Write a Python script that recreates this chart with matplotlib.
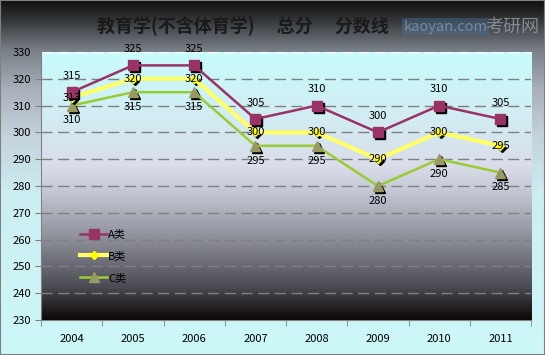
import numpy as np
import matplotlib
matplotlib.use('Agg')
import matplotlib.pyplot as plt
import matplotlib.transforms as mtransforms
from matplotlib.colors import LinearSegmentedColormap

plt.rcParams['font.family'] = ['Noto Sans CJK SC', 'DejaVu Sans']

years = ['2004', '2005', '2006', '2007', '2008', '2009', '2010', '2011']
a_scores = [315, 325, 325, 305, 310, 300, 310, 305]
b_scores = [313, 320, 320, 300, 300, 290, 300, 295]
c_scores = [310, 315, 315, 295, 295, 280, 290, 285]
labels = ['A类', 'B类', 'C类']

fig = plt.figure(figsize=(5.45, 3.55), dpi=100)

# figure background gradient
bg = fig.add_axes([0, 0, 1, 1], zorder=-10)
bg_cmap = LinearSegmentedColormap.from_list('bg', [
    (0.0, '#ccf8f8'), (0.45, '#cceef2'), (0.62, '#c4d2dc'),
    (0.75, '#a8b0ba'), (0.86, '#7a8088'), (0.95, '#303234'), (1.0, '#101010')])
bg.imshow(np.linspace(0, 1, 256).reshape(-1, 1), aspect='auto', cmap=bg_cmap,
          origin='lower', extent=[0, 1, 0, 1])
bg.set_axis_off()
fig.patches.append(plt.Rectangle((0, 0), 1, 1, transform=fig.transFigure,
                                 fill=False, edgecolor='#808080', lw=1.5))

ax = fig.add_axes([41 / 545, 1 - 320 / 355, 490 / 545, 268 / 355])
ax.set_facecolor('none')
plot_cmap = LinearSegmentedColormap.from_list('pl', [
    (0.0, '#0c0606'), (0.12, '#4a4a52'), (0.3, '#8c8e98'),
    (0.48, '#c4c8d4'), (0.58, '#dadeea'), (0.75, '#d2ecf2'), (1.0, '#c8fcfc')])
x = np.arange(len(years))
ax.imshow(np.linspace(0, 1, 256).reshape(-1, 1), aspect='auto', cmap=plot_cmap,
          origin='lower', extent=[-0.5, len(years) - 0.5, 230, 330], zorder=0)

ax.set_xlim(-0.5, len(years) - 0.5)
ax.set_ylim(230, 330)
ax.set_yticks(range(230, 331, 10))
ax.set_xticks(x)
ax.set_xticklabels(years)
ax.set_xticks(np.arange(-0.5, len(years), 1), minor=True)
ax.tick_params(axis='x', which='major', length=0, pad=10, labelsize=8)
ax.tick_params(axis='x', which='minor', length=4, color='#808080')
ax.tick_params(axis='y', length=4, color='#808080', labelsize=8, pad=3)
for s in ax.spines.values():
    s.set_visible(False)
ax.spines['left'].set_visible(True)
ax.spines['bottom'].set_visible(True)
ax.spines['left'].set_color('#808080')
ax.spines['bottom'].set_color('#808080')

for yv in range(240, 331, 10):
    ax.axhline(yv, color='#ffffff' if yv == 330 else '#808080', lw=1,
               dashes=(8, 4), zorder=1)

# black marker shadows
sh = mtransforms.offset_copy(ax.transData, fig=fig, x=1.5, y=-1.5, units='points')
ax.plot(x, c_scores, ls='none', marker='^', ms=7, color='black', transform=sh, zorder=2)
ax.plot(x, b_scores, ls='none', marker='D', ms=4, color='black', transform=sh, zorder=3)
ax.plot(x, a_scores, ls='none', marker='s', ms=7, color='black', transform=sh, zorder=4)

ax.plot(x, a_scores, color='#993366', lw=1.8, marker='s', ms=7,
        mfc='#993366', mec='#993366', label=labels[0], zorder=4.5)
ax.plot(x, b_scores, color='#ffff66', lw=3, marker='D', ms=4,
        mfc='#ffff00', mec='#ffff00', label=labels[1], zorder=3.5)
ax.plot(x, c_scores, color='#99cc33', lw=1.8, marker='^', ms=7,
        mfc='#999966', mec='#999966', label=labels[2], zorder=2.5)

for i in x:
    ax.annotate(str(a_scores[i]), (i, a_scores[i]), xytext=(0, 8), textcoords='offset points',
                ha='center', va='bottom', fontsize=8, zorder=6)
    ax.annotate(str(b_scores[i]), (i, b_scores[i]), xytext=(0, 0), textcoords='offset points',
                ha='center', va='center', fontsize=8, zorder=6)
    ax.annotate(str(c_scores[i]), (i, c_scores[i]), xytext=(0, -7), textcoords='offset points',
                ha='center', va='top', fontsize=8, zorder=6)

leg = ax.legend(loc='upper left', bbox_to_anchor=(0.06, 0.375), frameon=False,
                fontsize=8, handlelength=2.4, handletextpad=0.1, labelspacing=1.05)

fig.text(0.445, 0.925, '教育学(不含体育学)　 总分　 分数线', ha='center', va='center',
         fontsize=13, fontweight='bold', color='#1a1a1a')
fig.text(0.818, 0.925, 'kaoyan.com', ha='center', va='center', fontsize=10.5,
         color='#8aa0b0', alpha=0.7,
         bbox=dict(facecolor='#4a7aa8', edgecolor='none', alpha=0.35, pad=1.2))
fig.text(0.99, 0.925, '考研网', ha='right', va='center', fontsize=13,
         color='#9098a0', alpha=0.85)

fig.savefig('out.png', dpi=100)
